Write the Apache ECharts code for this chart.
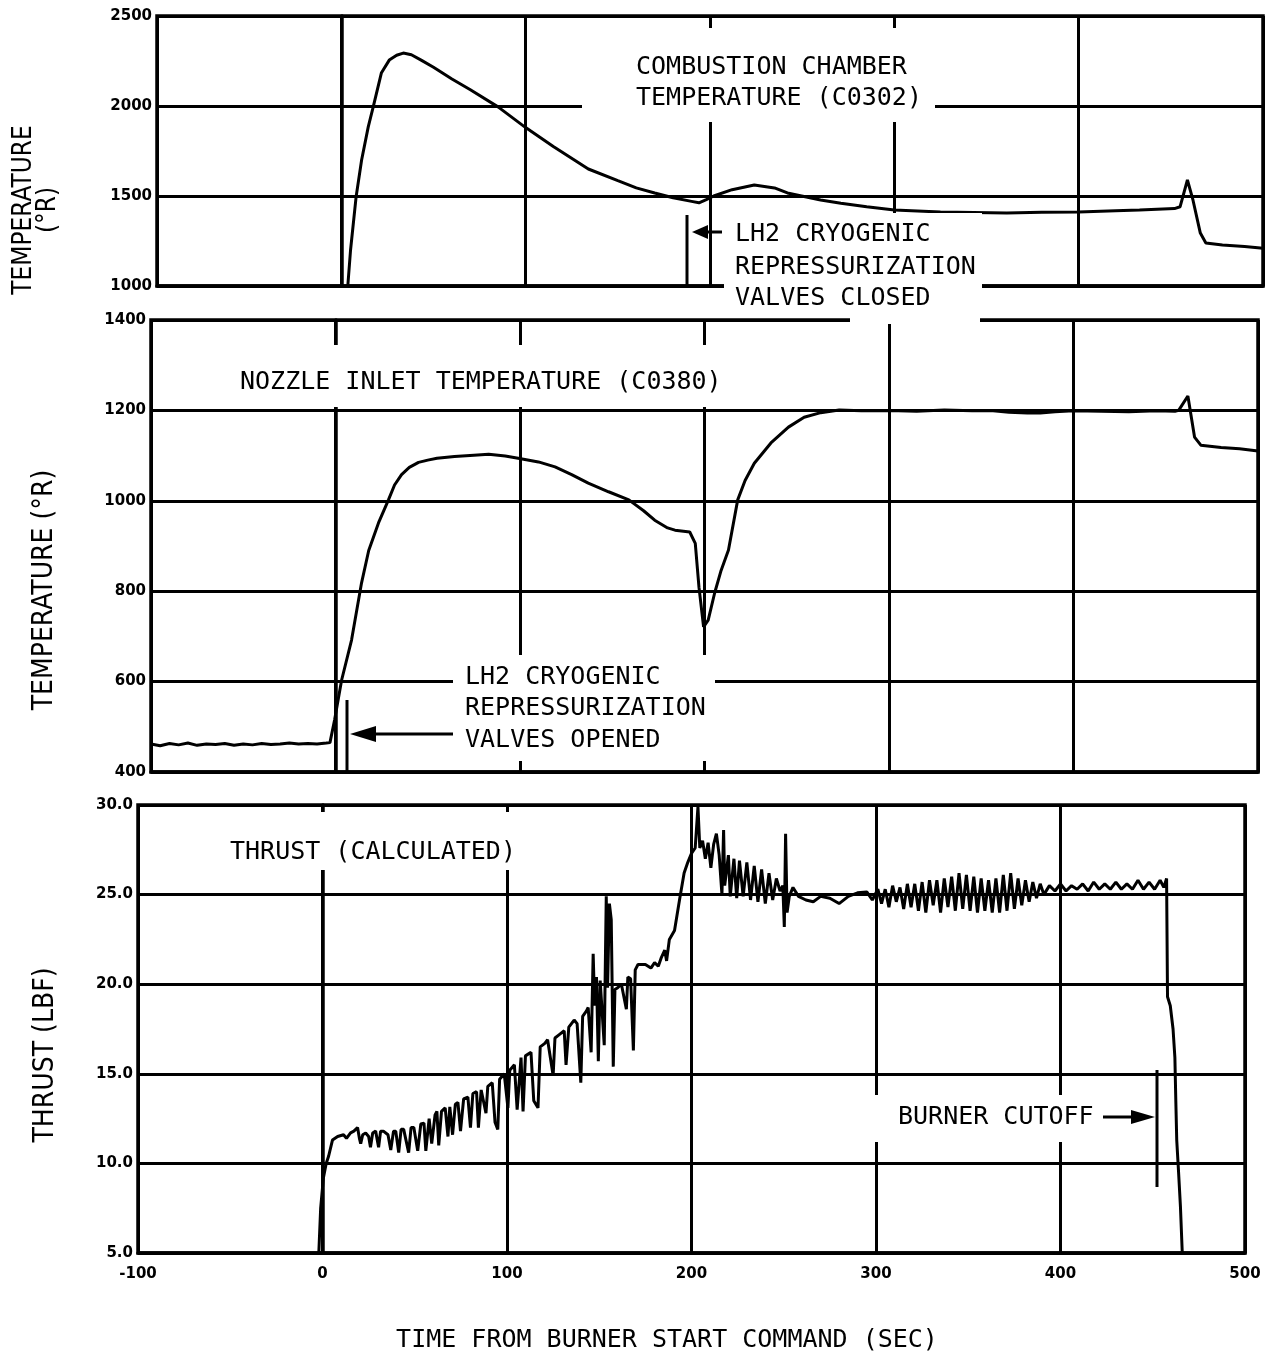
<!DOCTYPE html>
<html>
<head>
<meta charset="utf-8">
<script src="https://cdn.jsdelivr.net/npm/echarts@6/dist/echarts.min.js"></script>
<style>
html,body{margin:0;padding:0;background:#fff;}
#chart{width:1270px;height:1362px;}
</style>
</head>
<body>
<div id="chart"></div>
<script>
// ---- Data (time in sec, value) ----
const timeTicks = [-100, 0, 100, 200, 300, 400, 500];

const chamberTemp = [
  [3.5,1000],[5,1200],[8,1494],[11,1700],[14.6,1884],[17.3,1995],[21.7,2183],[26,2255],[30,2282],
  [33.6,2294],[38,2285],[43.3,2255],[50,2215],[60,2150],[70,2090],[85,1995],[100,1880],[115,1775],
  [134,1650],[150,1585],[160,1545],[170,1517],[180,1490],[190,1470],[194,1462],[198,1480],[202,1500],
  [212,1535],[224,1561],[235,1545],[242,1517],[260,1478],[271,1460],[285,1440],[300,1422],[325,1411],
  [361,1405],[380,1410],[400,1411],[420,1418],[433,1422],[452,1430],[455,1440],[459,1589],[462,1478],
  [466,1294],[469,1239],[478,1228],[490,1220],[500,1210]
];

const nozzleTemp = [
  [-100,462],[-95,458],[-90,463],[-85,460],[-80,464],[-75,459],[-70,462],[-65,461],[-60,463],[-55,459],
  [-50,462],[-45,460],[-40,463],[-35,461],[-30,462],[-25,464],[-20,462],[-15,463],[-10,462],[-5,464],
  [-3,465],[-0.5,515],[3.3,603],[8.7,692],[14.1,818],[18,890],[23.3,951],[28.7,1002],[32,1035],[35.8,1058],
  [40,1074],[45,1085],[50,1090],[55,1094],[64.5,1098],[75,1101],[83,1103],[92,1099],[99,1094],[110,1086],[119,1075],
  [128,1058],[137,1039],[148,1020],[159,1002],[167,978],[173,957],[180,940],[184,935],[192,931],
  [195,906],[197,809],[199.5,721],[202,736],[205.5,796],[209,846],[213,891],[218,1002],[222,1045],
  [227,1083],[236,1128],[245.5,1163],[254,1185],[263,1195],[273,1201],[285,1199],[300,1200],[315,1198],
  [330,1201],[345,1199],[355,1200],[365,1196],[375,1194],[382,1194],[390,1197],[400,1199],[415,1198],
  [430,1197],[445,1199],[455,1198],[457,1200],[462,1232],[465.6,1141],[469,1123],[480,1118],[490,1115],
  [500,1110]
];

const thrust = [
  [-2,5.0],[-1,7.5],[0.5,9.2],[2,10.0],[3.3,10.4],[5.4,11.3],[8.2,11.5],[11.4,11.6],[13,11.4],[15.2,11.7],
  [17,11.8],[19,12.0],[20,11.4],[20.7,11.1],[21.8,11.6],[23.4,11.7],[25,11.5],[26,10.9],[27.2,11.7],
  [28.8,11.8],[30.4,10.9],[31.5,11.8],[33,11.8],[35.5,11.6],[37,10.75],[38.5,11.8],[39.7,11.8],
  [41.3,10.6],[42.6,11.9],[44,11.9],[46.7,10.6],[48,12.0],[49.5,12.0],[51.6,10.7],[53.3,12.2],
  [55,12.25],[56,10.7],[57.8,12.5],[59.2,11.1],[61,12.7],[62,12.9],[63,11.0],[64.5,12.9],[66.5,13.1],
  [68,11.5],[69,13.15],[70.5,11.6],[72,13.3],[73.4,13.4],[74.8,11.8],[76.5,13.6],[78.8,13.7],
  [80.2,12.0],[81.5,13.9],[83.5,14.0],[84.5,12.0],[86,14.1],[88.6,12.8],[89.6,14.3],[92,14.5],
  [93.5,12.3],[95,11.9],[96,14.7],[98.5,15.0],[100.5,13.1],[101.5,15.2],[104,15.5],[105.5,13.0],
  [107.6,15.9],[108.7,12.9],[110,16.0],[113,16.2],[114.5,13.5],[116.8,13.1],[118,16.5],[120.5,16.7],
  [122,16.9],[125,14.9],[126,17.0],[128.5,17.2],[131,17.4],[132,15.5],[133.5,17.6],[136.4,18.0],
  [138,17.8],[140,14.5],[141,18.2],[143,18.5],[144,18.7],[145.6,16.2],[146.7,21.7],[147.5,18.8],
  [148.5,20.4],[149.5,15.7],[150.5,20.2],[152.7,16.6],[153.8,24.9],[154.5,19.8],[155.5,24.5],
  [156.5,23.6],[157.6,15.4],[158.5,19.7],[160,19.8],[162,20.0],[164.7,18.6],[165.5,20.4],[167,20.3],
  [168.5,16.3],[169.5,20.8],[171,21.1],[175,21.1],[178,20.9],[180,21.2],[182,21.0],[183.7,21.5],
  [185.5,21.9],[186.5,21.3],[188,22.5],[190.8,23.0],[193.5,24.7],[196,26.2],[198,26.8],[200,27.3],
  [202,27.6],[203.5,29.9],[204.5,27.6],[206,28.0],[207.5,27.0],[209,27.9],[210.5,26.5],[212,27.8],
  [213.5,28.4],[215,27.2],[216.5,25.0],[217.4,28.6],[218,25.5],[220,27.2],[221,24.9],[223,27.0],
  [224.5,24.8],[226,26.9],[228,24.9],[230,26.8],[232,24.7],[234,26.6],[236,24.6],[238,26.4],
  [240,24.5],[242,26.2],[244,24.7],[246,25.9],[248,25.2],[249.5,25.5],[250.3,23.2],[251,28.4],
  [251.8,24.0],[253,24.9],[255,25.4],[258,24.9],[262,24.7],[266,24.6],[270,24.9],[275,24.8],
  [280,24.5],[285,24.9],[290,25.1],[295,25.15],[298,24.7],[301,25.3],[303,24.5],[305,25.3],
  [307,24.3],[309,25.5],[311,24.6],[313,25.4],[315,24.2],[317,25.6],[319,24.3],[321,25.6],
  [323,24.1],[325,25.7],[327,24.0],[329,25.8],[331,24.4],[333,25.8],[335,24.0],[337,25.9],
  [339,24.3],[341,26.0],[343,24.1],[345,26.2],[347,24.2],[349,26.1],[351,24.1],[353,26.0],
  [355,24.0],[357,25.9],[359,24.1],[361,25.8],[363,24.0],[365,25.9],[367,24.0],[369,26.1],
  [371,24.1],[373,26.2],[375,24.2],[377,25.9],[379,24.4],[381,25.8],[383,24.6],[385,25.7],
  [387,24.8],[389,25.6],[391,25.0],[394,25.5],[397,25.2],[400,25.6],[403,25.2],[406,25.5],
  [409,25.3],[412,25.6],[415,25.2],[418,25.7],[421,25.3],[424,25.6],[427,25.3],[430,25.7],
  [433,25.3],[436,25.6],[439,25.3],[442,25.8],[445,25.3],[448,25.7],[451,25.3],[454,25.8],
  [456,25.4],[457.5,25.9],[458,19.3],[459.5,18.8],[461,17.5],[462,15.9],[462.5,13.5],[463,11.3],
  [464,9.5],[465,7.6],[466,5.0]
];

// ---- Styles ----
const BLACK = '#000';
const monoFont = '"DejaVu Sans Mono", "Liberation Mono", monospace';
const narrowFont = '"Liberation Sans Narrow", "DejaVu Sans Condensed", "Liberation Sans", sans-serif';
const tickFont = {fontFamily: '"DejaVu Sans", sans-serif', fontWeight: 'bold', fontSize: 15, color: BLACK};

function xAxisFor(gi, showLabels) {
  return {
    type: 'value', gridIndex: gi, min: -100, max: 500, interval: 100,
    axisLine: {show: true, lineStyle: {color: BLACK, width: 3.5}},
    axisTick: {show: false},
    splitLine: {show: true, lineStyle: {color: BLACK, width: 3}},
    axisLabel: Object.assign({show: showLabels, margin: 14, formatter: function (v) { return String(v); }}, tickFont)
  };
}
function yAxisFor(gi, min, max, interval, fmt) {
  return {
    type: 'value', gridIndex: gi, min: min, max: max, interval: interval,
    axisLine: {show: true, lineStyle: {color: BLACK, width: 3.5}},
    axisTick: {show: false},
    splitLine: {show: true, lineStyle: {color: BLACK, width: 3}},
    axisLabel: Object.assign({margin: 5, formatter: fmt || function (v) { return String(v); }}, tickFont)
  };
}
function lineSeries(idx, data) {
  return {
    type: 'line', xAxisIndex: idx, yAxisIndex: idx, data: data,
    showSymbol: false, symbol: 'none', smooth: false,
    lineStyle: {color: BLACK, width: 3}, z: 5
  };
}

// annotation helpers (layout only)
function box(x, y, w, h) { return {type: 'rect', z: 100, shape: {x: x, y: y, width: w, height: h}, style: {fill: '#fff'}}; }
function label(x, y, text, align) {
  return {type: 'text', z: 101, x: x, y: y,
    style: {text: text, font: '25px ' + monoFont, fill: BLACK, align: align || 'left', verticalAlign: 'middle',
            textAlign: align || 'left', textVerticalAlign: 'middle'}};
}
function seg(x1, y1, x2, y2, w) { return {type: 'line', z: 102, shape: {x1: x1, y1: y1, x2: x2, y2: y2}, style: {stroke: BLACK, lineWidth: w || 3}}; }
function tri(points) { return {type: 'polygon', z: 102, shape: {points: points}, style: {fill: BLACK}}; }
function vlabel(x, y, text, size) {
  return {type: 'text', z: 101, x: x, y: y, rotation: Math.PI / 2,
    style: {text: text, font: size + 'px ' + narrowFont, fill: BLACK, align: 'center', verticalAlign: 'middle',
            textAlign: 'center', textVerticalAlign: 'middle'}};
}

const chart = echarts.init(document.getElementById('chart'), null, {renderer: 'canvas'});
chart.setOption({
  animation: false,
  backgroundColor: '#fff',
  grid: [
    {left: 157, top: 16, width: 1106, height: 270, show: true, borderColor: BLACK, borderWidth: 3.5, backgroundColor: 'transparent'},
    {left: 151, top: 320, width: 1107, height: 452, show: true, borderColor: BLACK, borderWidth: 3.5, backgroundColor: 'transparent'},
    {left: 138, top: 805, width: 1107, height: 448, show: true, borderColor: BLACK, borderWidth: 3.5, backgroundColor: 'transparent'}
  ],
  xAxis: [xAxisFor(0, false), xAxisFor(1, false), xAxisFor(2, true)],
  yAxis: [
    yAxisFor(0, 1000, 2500, 500),
    yAxisFor(1, 400, 1400, 200),
    yAxisFor(2, 5, 30, 5, function (v) { return v.toFixed(1); })
  ],
  series: [
    lineSeries(0, chamberTemp),
    lineSeries(1, nozzleTemp),
    lineSeries(2, thrust)
  ],
  graphic: [
    // white label boxes
    box(582, 28, 353, 94),
    box(724, 213, 258, 105),
    box(850, 316, 130, 8),
    box(205, 345, 545, 62),
    box(453, 655, 262, 106),
    box(215, 812, 310, 58),
    box(870, 1095, 232, 47),
    // annotation texts
    label(636, 67, 'COMBUSTION CHAMBER'),
    label(636, 98, 'TEMPERATURE (C0302)'),
    label(735, 234, 'LH2 CRYOGENIC'),
    label(735, 267, 'REPRESSURIZATION'),
    label(735, 298, 'VALVES CLOSED'),
    label(240, 382, 'NOZZLE INLET TEMPERATURE (C0380)'),
    label(465, 677, 'LH2 CRYOGENIC'),
    label(465, 708, 'REPRESSURIZATION'),
    label(465, 740, 'VALVES OPENED'),
    label(230, 852, 'THRUST (CALCULATED)'),
    label(898, 1117, 'BURNER CUTOFF'),
    label(667, 1340, 'TIME FROM BURNER START COMMAND (SEC)', 'center'),
    // markers and arrows
    seg(687, 215, 687, 286),
    tri([[692, 232], [708, 225], [708, 239]]),
    seg(706, 232, 722, 232),
    seg(347, 700, 347, 772),
    tri([[350, 734], [376, 726], [376, 742]]),
    seg(374, 734, 453, 734),
    seg(1157, 1070, 1157, 1187),
    tri([[1155, 1117], [1131, 1110], [1131, 1124]]),
    seg(1103, 1117, 1133, 1117),
    // axis names
    vlabel(24, 210, 'TEMPERATURE', 26),
    vlabel(48, 210, '(°R)', 26),
    vlabel(45, 590, 'TEMPERATURE (°R)', 28),
    vlabel(46, 1055, 'THRUST (LBF)', 28)
  ]
});
</script>
</body>
</html>
